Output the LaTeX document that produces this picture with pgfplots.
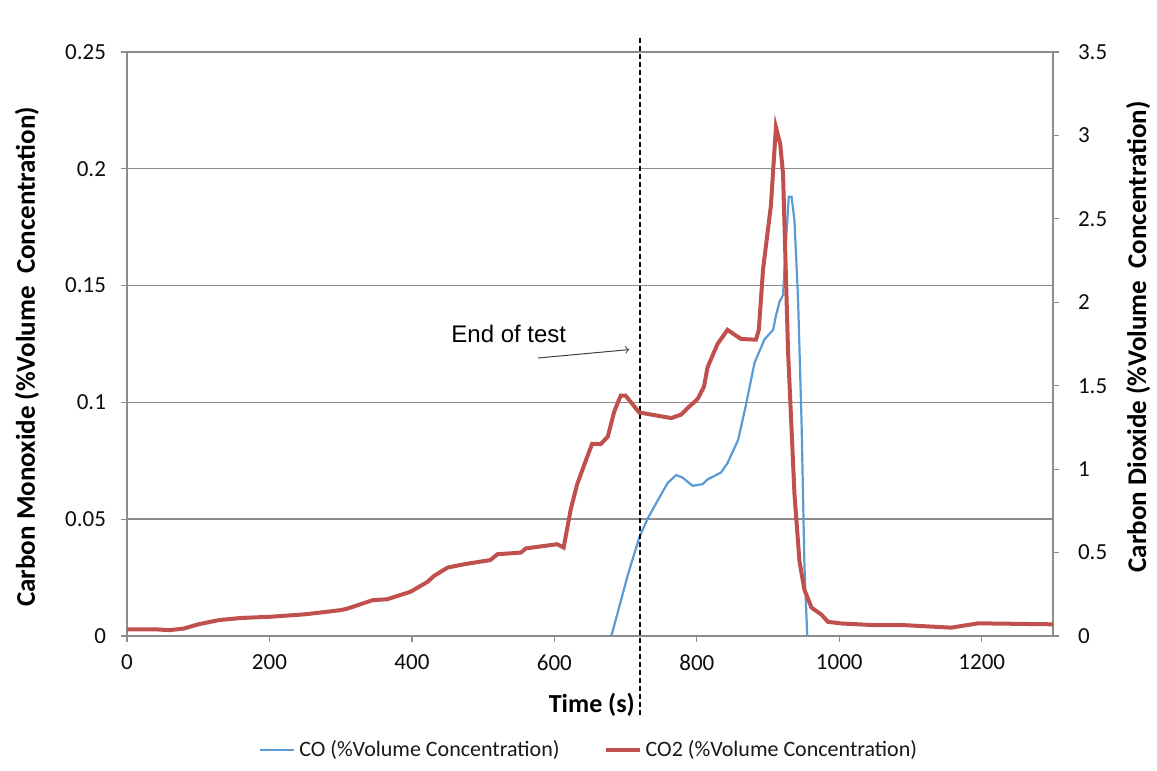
\documentclass[border=0pt]{standalone}
\usepackage{fontspec}
\setmainfont{Carlito}
\newfontfamily\arialf{Liberation Sans}
\usepackage{pgfplots}
\pgfplotsset{compat=1.18}
\definecolor{cored}{HTML}{C0504D}
\definecolor{coblue}{HTML}{5A9BD5}
\definecolor{gridgray}{HTML}{8C8C8C}
\begin{document}
\begin{tikzpicture}
\pgfplotsset{
  common/.style={
    scale only axis, width=463pt, height=292pt,
    xmin=0, xmax=1300,
    tick align=outside,
    major tick length=3pt,
    every tick/.style={gridgray, line width=0.6pt},
    axis line style={gridgray, line width=0.7pt},
    /pgf/number format/assume math mode=true,
    /pgf/number format/1000 sep={},
    ticklabel style={font=\fontsize{11.5}{13}\selectfont, text=black!95},
    scaled y ticks=false,
  }
}
\begin{axis}[common, name=main,
  ymin=0, ymax=0.25,
  ytick={0,0.05,0.1,0.15,0.2,0.25},
  yticklabels={0,0.05,0.1,0.15,0.2,0.25},
  xtick={0,200,400,600,800,1000,1200},
  xtick pos=bottom, ytick pos=left,
  ymajorgrids, grid style={gridgray, line width=0.7pt},
  xticklabel style={yshift=-3pt},
  yticklabel style={xshift=-4pt},
  xlabel={\textbf{Time (s)}},
  ylabel={\textbf{Carbon Monoxide (\%Volume\ \ Concentration)}},
  xlabel style={font=\fontsize{13}{15}\selectfont, at={(axis description cs:0.502,-0.118)}, anchor=center},
  ylabel style={font=\fontsize{13.5}{15}\selectfont, at={(axis description cs:-0.108,0.478)}, anchor=center, rotate=0},
  clip=false,
]
\addplot[coblue, line width=1.1pt] coordinates {
(680,0) (703,0.026) (719,0.042) (731,0.0503) (745,0.058) (759,0.0655)
(771,0.0689) (780,0.0678) (794,0.0643) (808,0.065) (815,0.067) (834,0.070)
(843,0.074) (858,0.084) (869,0.099) (881,0.117) (895,0.127) (907,0.131)
(911,0.137) (916,0.143) (921,0.146) (925,0.168) (929,0.188) (933,0.188)
(937,0.178) (942,0.145) (947,0.0915) (951,0.0305) (955,0)
};
\draw[black, line width=0.8pt, dash pattern=on 2.5pt off 1.5pt] (axis cs:720,-0.034) -- (axis cs:720,0.257);
\node[font=\arialf\fontsize{12}{14}\selectfont, anchor=center] at (axis cs:536,0.1295) {End of test};
\draw[black!75, line width=0.5pt, ->] (axis cs:577,0.119) -- (axis cs:705,0.1226);
\end{axis}
\begin{axis}[common,
  ymin=0, ymax=3.5,
  ytick={0,0.5,1,1.5,2,2.5,3,3.5},
  yticklabels={0,0.5,1,1.5,2,2.5,3,3.5},
  axis y line*=right, axis x line=none,
  yticklabel style={xshift=6pt},
  ylabel={\textbf{Carbon Dioxide (\%Volume\ \ Concentration)}},
  ylabel style={font=\fontsize{13.5}{15}\selectfont, at={(axis description cs:1.092,0.512)}, anchor=center, rotate=0},
  legend columns=2,
  legend style={draw=none, at={(axis description cs:0.5,-0.195)}, anchor=center,
    font=\fontsize{11}{13}\selectfont, text=black!90,
    /tikz/every even column/.append style={column sep=20pt},
    inner sep=0pt},
]
\addlegendimage{coblue, line width=1.1pt}
\addlegendentry{CO (\%Volume Concentration)}
\addplot[cored, line width=2pt] coordinates {
(0,0.04) (40,0.04) (60,0.035) (80,0.045) (100,0.07) (130,0.096) (160,0.108)
(200,0.115) (250,0.13) (300,0.155) (310,0.165) (345,0.215) (365,0.22)
(398,0.265) (422,0.325) (431,0.36) (450,0.41) (473,0.43) (510,0.455)
(520,0.49) (553,0.50) (560,0.525) (604,0.55) (613,0.53) (623,0.76)
(632,0.91) (644,1.05) (653,1.152) (665,1.15) (675,1.195) (684,1.345)
(693,1.44) (700,1.44) (719,1.34) (736,1.327) (764,1.306) (778,1.327)
(787,1.366) (801,1.42) (810,1.494) (815,1.61) (829,1.75) (843,1.835)
(862,1.78) (883,1.776) (887,1.835) (893,2.2) (904,2.58) (911,3.05)
(917,2.95) (921,2.77) (928,1.71) (937,0.854) (944,0.45) (951,0.277) (961,0.17)
(975,0.128) (984,0.085) (1003,0.075) (1050,0.065) (1087,0.066) (1157,0.05)
(1195,0.076) (1300,0.07)
};
\addlegendentry{CO2 (\%Volume Concentration)}
\end{axis}
\path ([shift={(-63.5pt,-67.5pt)}]main.south west) rectangle ([shift={(52pt,26pt)}]main.north east);
\end{tikzpicture}
\end{document}
